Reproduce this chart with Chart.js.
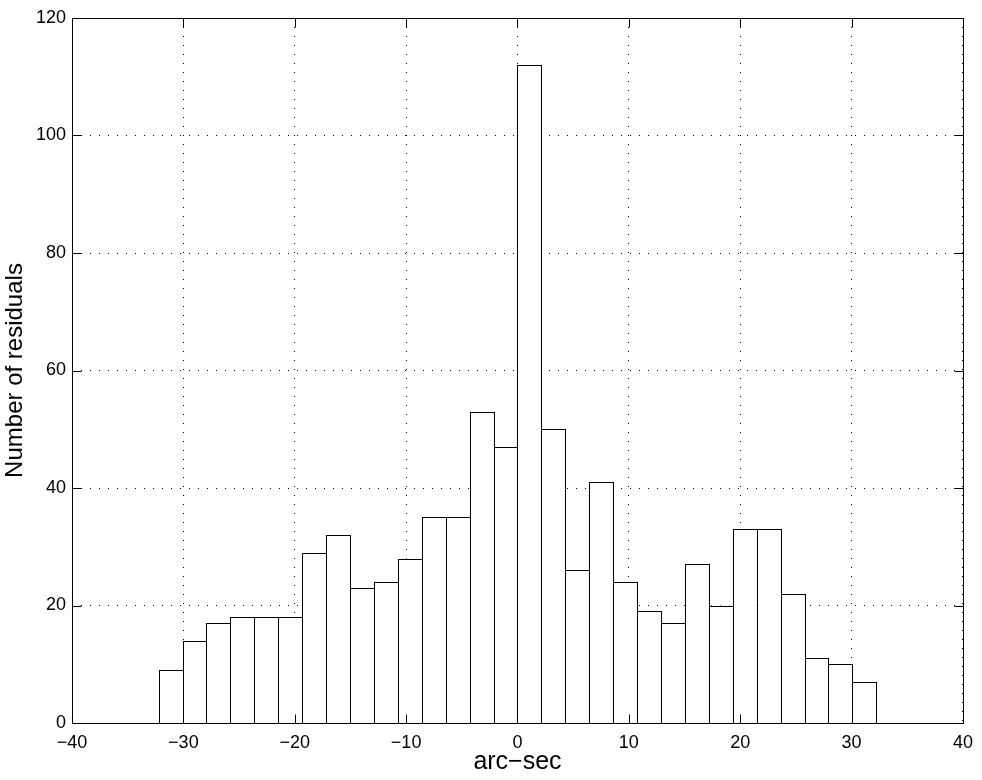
<!DOCTYPE html>
<html><head><meta charset="utf-8">
<script src="https://cdn.jsdelivr.net/npm/chart.js@4/dist/chart.umd.min.js"></script>
<style>html,body{margin:0;padding:0;background:#fff;overflow:hidden;}</style>
</head><body>
<canvas id="c" width="982" height="780" style="display:block;width:982px;height:780px"></canvas>
<script>
// Histogram bin centres (arc-sec) and counts
const binCenters = [-31.146, -28.998, -26.850, -24.702, -22.554, -20.406, -18.258, -16.110, -13.962, -11.814,
                    -9.666, -7.518, -5.370, -3.222, -1.074, 1.074, 3.222, 5.370, 7.518, 9.666,
                    11.814, 13.962, 16.110, 18.258, 20.406, 22.554, 24.702, 26.850, 28.998, 31.146];
const counts = [9, 14, 17, 18, 18, 18, 29, 32, 23, 24,
                28, 35, 35, 53, 47, 112, 50, 26, 41, 24,
                19, 17, 27, 20, 33, 33, 22, 11, 10, 7];
const xTickValues = [-40, -30, -20, -10, 0, 10, 20, 30, 40];
const yTickValues = [0, 20, 40, 60, 80, 100, 120];
const xTitle = 'arc\u2212sec';
const yTitle = 'Number of residuals';

const FONT = 'Liberation Sans, Arial, Helvetica, sans-serif';

const framePlugin = {
  id: 'frame',
  afterDatasetsDraw(chart) {
    const ctx = chart.ctx;
    const meta = chart.getDatasetMeta(0);
    ctx.save();
    ctx.strokeStyle = '#000';
    ctx.lineWidth = 1;
    meta.data.forEach(bar => {
      const p = bar.getProps(['x', 'y', 'base', 'width'], true);
      const l = Math.round(p.x - p.width / 2) + 0.5;
      const r = Math.round(p.x + p.width / 2) + 0.5;
      const t = Math.round(p.y) + 0.5;
      const b = Math.round(p.base) + 0.5;
      ctx.strokeRect(l, t, r - l, b - t);
    });
    ctx.restore();
  },
  afterDraw(chart) {
    const {ctx, chartArea: a, scales: {x, y}} = chart;
    ctx.save();
    ctx.strokeStyle = '#000';
    ctx.lineWidth = 1;
    const L = Math.round(a.left) + 0.5, R = Math.round(a.right) + 0.5;
    const T = Math.round(a.top) + 0.5, B = Math.round(a.bottom) + 0.5;
    ctx.strokeRect(L, T, R - L, B - T);
    const tl = 9;
    ctx.beginPath();
    xTickValues.forEach(v => {
      const px = Math.round(x.getPixelForValue(v)) + 0.5;
      ctx.moveTo(px, B); ctx.lineTo(px, B - tl);
      ctx.moveTo(px, T); ctx.lineTo(px, T + tl);
    });
    yTickValues.forEach(v => {
      const py = Math.round(y.getPixelForValue(v)) + 0.5;
      ctx.moveTo(L, py); ctx.lineTo(L + tl, py);
      ctx.moveTo(R, py); ctx.lineTo(R - tl, py);
    });
    ctx.stroke();
    ctx.restore();
  }
};

const minusFmt = v => String(v).replace('-', '\u2212');

new Chart(document.getElementById('c'), {
  type: 'bar',
  data: {
    datasets: [{
      data: binCenters.map((c, i) => ({x: c, y: counts[i]})),
      backgroundColor: '#ffffff',
      borderWidth: 0,
      barPercentage: 1,
      categoryPercentage: 1,
      inflateAmount: 0
    }]
  },
  options: {
    responsive: false,
    animation: false,
    devicePixelRatio: 1,
    layout: {padding: {left: 0, right: 17, top: 18, bottom: 0}},
    plugins: {legend: {display: false}, tooltip: {enabled: false}},
    scales: {
      x: {
        type: 'linear', min: -40, max: 40, offset: false,
        afterBuildTicks(s) { s.ticks = xTickValues.map(v => ({value: v})); },
        afterFit(s) { s.height = 57; },
        grid: {color: '#000', lineWidth: 1, drawTicks: false, offset: false},
        border: {display: false, dash: [1, 8]},
        ticks: {color: '#000', font: {family: FONT, size: 18}, padding: 9, maxRotation: 0, autoSkip: false, callback: minusFmt},
        title: {display: true, text: xTitle, color: '#000', font: {family: FONT, size: 25}, padding: {top: 0, bottom: 3}}
      },
      y: {
        type: 'linear', min: 0, max: 120,
        afterBuildTicks(s) { s.ticks = yTickValues.map(v => ({value: v})); },
        afterFit(s) { s.width = 72; },
        grid: {color: '#000', lineWidth: 1, drawTicks: false},
        border: {display: false, dash: [1, 8]},
        ticks: {color: '#000', font: {family: FONT, size: 18}, padding: 6, autoSkip: false, callback: minusFmt},
        title: {display: true, text: yTitle, color: '#000', font: {family: FONT, size: 24}, padding: {top: 1, bottom: 0}}
      }
    }
  },
  plugins: [framePlugin]
});
</script>
</body></html>
